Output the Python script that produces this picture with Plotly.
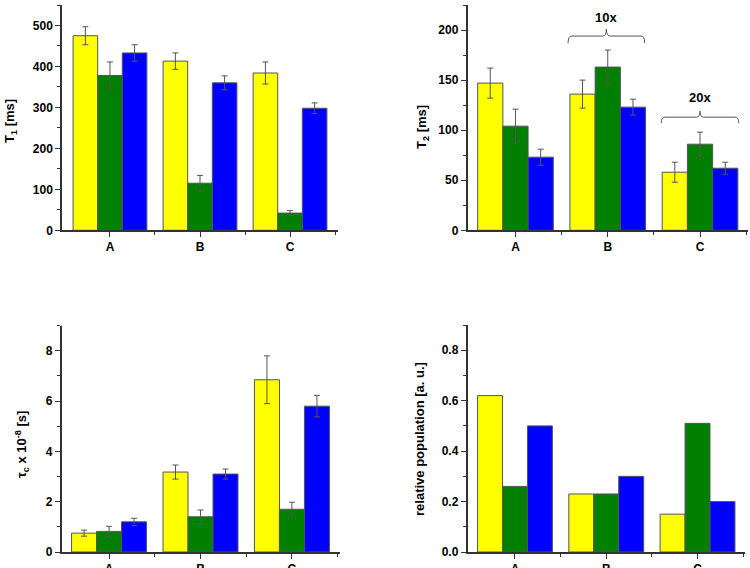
import plotly.graph_objects as go

categories = ["A", "B", "C"]
series_colors = ["#FFFF00", "#007F00", "#0000FF"]

# Panel 1: T1 [ms]
t1_yellow = [475, 413, 384]
t1_green = [378, 115, 42]
t1_blue = [433, 360, 298]
t1_yellow_err = [22, 20, 27]
t1_green_err = [33, 19, 6]
t1_blue_err = [20, 17, 13]

# Panel 2: T2 [ms]
t2_yellow = [147, 136, 58]
t2_green = [104, 163, 86]
t2_blue = [73, 123, 62]
t2_yellow_err = [15, 14, 10]
t2_green_err = [17, 17, 12]
t2_blue_err = [8, 8, 6]

# Panel 3: tau_c x 10^-8 [s]
tc_yellow = [0.75, 3.18, 6.85]
tc_green = [0.82, 1.40, 1.70]
tc_blue = [1.20, 3.10, 5.80]
tc_yellow_err = [0.12, 0.28, 0.95]
tc_green_err = [0.20, 0.27, 0.28]
tc_blue_err = [0.14, 0.20, 0.43]

# Panel 4: relative population [a. u.]
rp_yellow = [0.62, 0.23, 0.15]
rp_green = [0.26, 0.23, 0.51]
rp_blue = [0.50, 0.30, 0.20]

xpos = list(range(len(categories)))

fig = go.Figure()

def add_panel(vals, errs, ax):
    for i, v in enumerate(vals):
        kw = {}
        if errs is not None:
            kw["error_y"] = dict(type="data", array=errs[i], visible=True,
                                 color="#555555", thickness=1, width=3)
        fig.add_trace(go.Bar(
            x=xpos, y=v, marker=dict(color=series_colors[i],
                                     line=dict(color="#555555", width=1)),
            xaxis="x" + ax, yaxis="y" + ax, showlegend=False, **kw))

add_panel([t1_yellow, t1_green, t1_blue], [t1_yellow_err, t1_green_err, t1_blue_err], "")
add_panel([t2_yellow, t2_green, t2_blue], [t2_yellow_err, t2_green_err, t2_blue_err], "2")
add_panel([tc_yellow, tc_green, tc_blue], [tc_yellow_err, tc_green_err, tc_blue_err], "3")
add_panel([rp_yellow, rp_green, rp_blue], None, "4")

W, H = 750, 568
def xd(a, b):
    return [a / W, b / W]

FONT = "Liberation Sans, Arial, sans-serif"
tickfont = dict(family=FONT, size=12, color="#000000", weight="bold")

def xaxis(domain, anchor, rng):
    return dict(domain=domain, anchor=anchor, range=rng, automargin=False,
                tickmode="array", tickvals=xpos, ticktext=categories,
                ticks="outside", ticklen=5, tickwidth=1.2, tickcolor="#333333",
                showline=True, linecolor="#333333", linewidth=1.5,
                showgrid=False, zeroline=False, tickfont=tickfont,
                minor=dict(tickmode="array", tickvals=[0.5, 1.5, 2.5],
                           ticks="outside", ticklen=3, tickcolor="#333333"))

def yaxis(top, bottom, anchor, vmax, dtick, fmt=None):
    d = dict(domain=[1 - bottom / H, 1 - top / H], anchor=anchor, range=[0, vmax],
             dtick=dtick, tick0=0, automargin=False,
             ticks="outside", ticklen=5, tickwidth=1.2, tickcolor="#333333",
             showline=True, linecolor="#333333", linewidth=1.5,
             showgrid=False, zeroline=False, tickfont=tickfont,
             minor=dict(dtick=dtick / 2, ticks="outside", ticklen=3,
                        tickcolor="#333333"))
    if fmt:
        d["tickformat"] = fmt
    return d

fig.update_layout(
    width=W, height=H, margin=dict(l=0, r=0, t=0, b=0, autoexpand=False),
    paper_bgcolor="white", plot_bgcolor="white",
    barmode="group", bargap=0.18, bargroupgap=0,
    font=dict(family=FONT, color="#000000"),
    xaxis=xaxis(xd(62, 338), "y", [-0.533, 2.533]),
    yaxis=yaxis(5, 230.3, "x", 550, 100),
    xaxis2=xaxis(xd(467.5, 748), "y2", [-0.52, 2.52]),
    yaxis2=yaxis(5, 230.3, "x2", 225, 50),
    xaxis3=xaxis(xd(61.5, 339.5), "y3", [-0.52, 2.52]),
    yaxis3=yaxis(325.7, 552, "x3", 9, 2),
    xaxis4=xaxis(xd(467.5, 745), "y4", [-0.52, 2.52]),
    yaxis4=yaxis(325, 552, "x4", 0.9, 0.2, ".1f"),
)

title_font = dict(family=FONT, size=13, color="#000000")
def ytitle(text, xpx, ypx):
    fig.add_annotation(text=text, x=xpx / W, y=1 - ypx / H,
                       xref="paper", yref="paper",
                       showarrow=False, textangle=-90, font=title_font,
                       xanchor="center", yanchor="middle")

ytitle("<b>T<sub>1</sub> [ms]</b>", 10, 121)
ytitle("<b>T<sub>2</sub> [ms]</b>", 423, 127)
ytitle("<b>τ<sub>c</sub> x 10<sup>-8</sup> [s]</b>", 22, 445)
ytitle("<b>relative population [a. u.]</b>", 419, 439)

# Braces with scale labels in panel 2
def brace(xc_left, xc_right, y_end, y_mid, y_tip, label, y_label):
    xm = (xc_left + xc_right) / 2
    r = 0.04
    path = (f"M {xc_left} {y_end} Q {xc_left} {y_mid} {xc_left + r} {y_mid} "
            f"L {xm - r} {y_mid} Q {xm} {y_mid} {xm} {y_tip} "
            f"Q {xm} {y_mid} {xm + r} {y_mid} "
            f"L {xc_right - r} {y_mid} Q {xc_right} {y_mid} {xc_right} {y_end}")
    fig.add_shape(type="path", path=path, xref="x2", yref="y2",
                  line=dict(color="#555555", width=1))
    fig.add_annotation(text=f"<b>{label}</b>", x=xm, y=y_label, xref="x2", yref="y2",
                       showarrow=False, font=dict(family=FONT, size=13, color="#000000"))

brace(0.57, 1.40, 187, 194, 201, "10x", 213)
brace(1.58, 2.42, 107, 113, 119, "20x", 133)

fig.write_html("out.html", config={"displayModeBar": False},
               post_script="document.body.style.margin='0px';document.body.style.overflow='hidden';")
